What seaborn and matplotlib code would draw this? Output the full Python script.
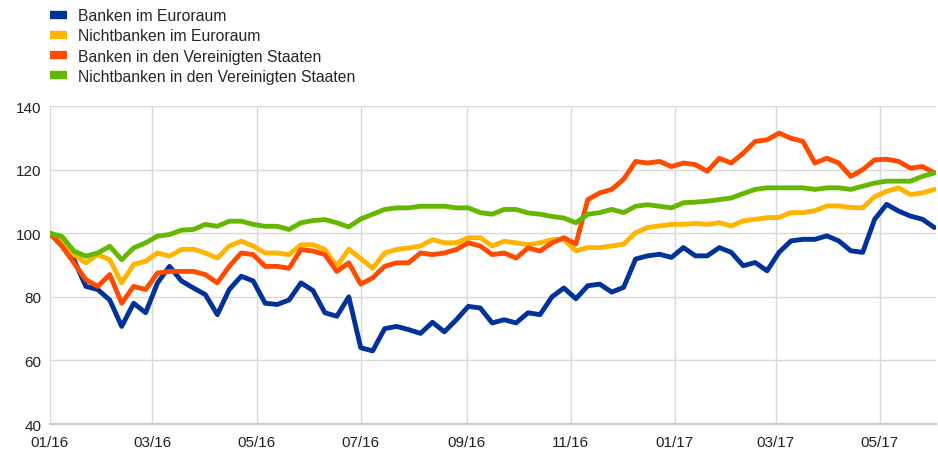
import pandas as pd
import matplotlib.pyplot as plt
import matplotlib.dates as mdates
import seaborn as sns

# Weekly observations (Fridays), index 01/01/2016 = 100
dates = pd.date_range('2016-01-01', periods=75, freq='7D')

banken_ea = [100, 96, 91.7, 83.3, 82.3, 79, 70.7, 78, 75, 84.4,
             89.6, 85, 82.8, 80.7, 74.4, 82.3, 86.5, 85, 78, 77.6,
             79, 84.4, 82, 75, 73.9, 80, 64, 63, 70, 70.7,
             69.7, 68.5, 72, 69, 72.8, 77, 76.5, 71.8, 72.8, 71.8,
             75, 74.4, 80, 82.8, 79.4, 83.5, 84, 81.5, 83, 91.9,
             92.9, 93.4, 92.4, 95.5, 92.9, 92.9, 95.5, 94, 89.8, 90.8,
             88.2, 94, 97.6, 98.1, 98.1, 99.2, 97.6, 94.5, 94, 104.4,
             109.1, 107, 105.4, 104.4, 101.8]

nichtbanken_ea = [100, 97, 93.3, 90.7, 93.3, 91.7, 84.4, 90.2, 91.2, 93.8,
                  92.8, 94.9, 95, 93.8, 92.2, 96, 97.5, 96, 93.8, 93.8,
                  93.3, 96.4, 96.4, 94.9, 89.6, 95, 92, 89, 93.8, 94.9,
                  95.4, 96, 98, 97, 97, 98.6, 98.6, 96, 97.5, 97,
                  96.4, 97, 98, 98, 94.5, 95.5, 95.5, 96, 96.6, 100.2,
                  101.8, 102.3, 102.8, 102.8, 103.1, 102.8, 103.3, 102.3, 103.9, 104.4,
                  104.9, 105, 106.5, 106.5, 107.1, 108.6, 108.6, 108.1, 108, 111.5,
                  113.2, 114.3, 112.2, 112.7, 113.8]

banken_us = [100, 96, 90.7, 85.4, 83.3, 87, 78, 83.3, 82.3, 87.5,
             88, 88, 88, 87, 84.4, 89.6, 93.8, 93.3, 89.6, 89.6,
             89, 94.9, 94.4, 93.3, 88, 90.7, 84, 86, 89.6, 90.7,
             90.7, 93.8, 93.3, 93.8, 94.9, 97, 96, 93.3, 93.8, 92.2,
             95.4, 94.4, 97, 98.6, 96.6, 110.6, 112.7, 113.8, 117, 122.6,
             122.1, 122.6, 121, 122.1, 121.6, 119.5, 123.6, 122.1, 125.2, 128.9,
             129.4, 131.5, 129.9, 128.9, 122.1, 123.6, 122.1, 117.9, 120, 123.1,
             123.3, 122.6, 120.5, 121, 119]

nichtbanken_us = [100, 99, 94.4, 92.8, 93.8, 95.9, 91.7, 95.4, 97, 99.1,
                  99.6, 101, 101.2, 102.8, 102.2, 103.8, 103.8, 102.8, 102.2, 102.2,
                  101.2, 103.3, 104, 104.3, 103.3, 102, 104.5, 106, 107.5, 108,
                  108, 108.5, 108.5, 108.5, 108, 108, 106.5, 106, 107.5, 107.5,
                  106.4, 106, 105.3, 104.8, 103.3, 106, 106.5, 107.5, 106.5, 108.5,
                  109, 108.5, 108, 109.6, 109.8, 110.1, 110.6, 111.1, 112.5, 113.8,
                  114.3, 114.3, 114.3, 114.3, 113.8, 114.3, 114.3, 113.8, 114.8, 115.8,
                  116.4, 116.4, 116.4, 117.9, 119]

labels = ['Banken im Euroraum', 'Nichtbanken im Euroraum',
          'Banken in den Vereinigten Staaten', 'Nichtbanken in den Vereinigten Staaten']
colors = ['#003299', '#FFB400', '#FF4B00', '#65B800']

df = pd.concat([
    pd.DataFrame({'date': dates, 'value': vals, 'series': lab})
    for vals, lab in zip([banken_ea, nichtbanken_ea, banken_us, nichtbanken_us], labels)
])

sns.set_style('white')
plt.rcParams['font.family'] = ['Liberation Sans', 'DejaVu Sans']

fig = plt.figure(figsize=(9.38, 4.52), dpi=100)
ax = fig.add_axes([0.0533, 0.0597, 0.9447, 0.7033])

sns.lineplot(data=df, x='date', y='value', hue='series', hue_order=labels,
             palette=colors, linewidth=3.5, ax=ax, legend=False)

ax.set_xlim(pd.Timestamp('2016-01-01'), pd.Timestamp('2017-06-03'))
ax.set_ylim(40, 140)
ax.set_yticks(range(40, 141, 20))
ax.set_xticks(pd.date_range('2016-01-01', '2017-05-01', freq='2MS'))
ax.xaxis.set_major_formatter(mdates.DateFormatter('%m/%y'))
ax.set_xlabel('')
ax.set_ylabel('')
ax.grid(True, color='#d9d9d9', linewidth=1)
ax.set_axisbelow(True)
for s in ['top', 'right', 'left']:
    ax.spines[s].set_visible(False)
ax.spines['bottom'].set_color('#c8c8c8')
ax.spines['bottom'].set_linewidth(1.5)
ax.tick_params(axis='both', length=0, labelsize=11, colors='#222222', pad=6)
ax.tick_params(axis='x', pad=8)

handles = [plt.Line2D([], [], color=c, linewidth=6, solid_capstyle='butt') for c in colors]
fig.legend(handles, labels, loc='upper left', bbox_to_anchor=(0.042, 1.004),
           frameon=False, fontsize=11.3, labelspacing=0.33, handlelength=1.07,
           handletextpad=0.7, borderaxespad=0.3)

fig.savefig('out.png', dpi=100)
